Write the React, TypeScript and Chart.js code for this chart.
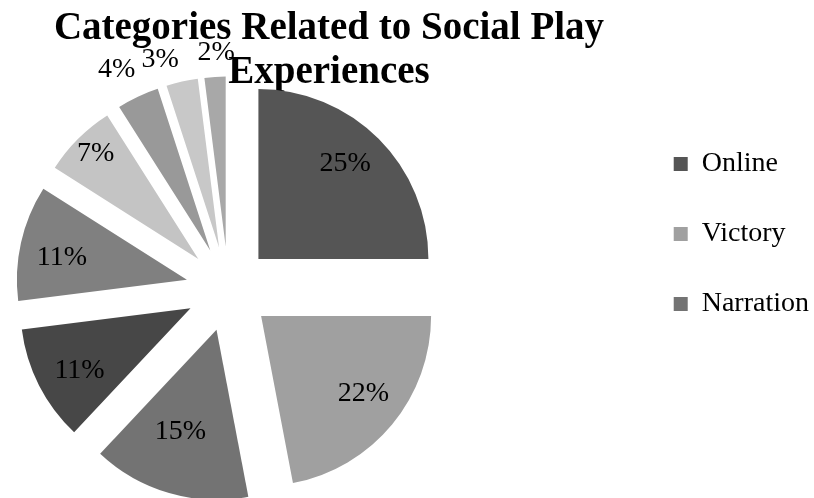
import React, { useEffect, useRef } from 'react';
import { Chart, registerables, ArcElement } from 'chart.js';

Chart.register(...registerables);

// ---- data ----
const categories = [
  'Online',
  'Victory',
  'Narration',
  'Category 4',
  'Category 5',
  'Category 6',
  'Category 7',
  'Category 8',
  'Category 9',
];
const shares = [25, 22, 15, 11, 11, 7, 4, 3, 2];
const sliceColors = [
  '#555555',
  '#a0a0a0',
  '#737373',
  '#474747',
  '#808080',
  '#c4c4c4',
  '#999999',
  '#c8c8c8',
  '#a8a8a8',
];
const titleLines = ['Categories Related to Social Play', 'Experiences'];
const legendCount = 3;
// label placement relative to each slice tip: distance (fraction of radius) and angular nudge (degrees)
const labelDistance = [0.76, 0.756, 0.635, 0.75, 0.747, 0.866, 1.2, 1.16, 1.14];
const labelAngleShift = [-2.8, -2.4, 3.3, -2.5, -2.6, 0.8, -2.1, -4.8, 0.8];

const FONT = '"Liberation Serif", "Times New Roman", serif';
const EXPLOSION = 0.25; // slice explosion as a fraction of the radius

// Chart.js clamps a negative left layout padding to 0 for the chart area;
// extend the plot area to the requested padding so the pie sits left of centre.
const extendArea = {
  id: 'extendArea',
  afterLayout(chart: any) {
    const pad = chart.options.layout.padding;
    const left = typeof pad === 'object' ? pad.left : pad;
    const ca = chart.chartArea;
    if (typeof left === 'number' && left < ca.left) {
      ca.left = left;
      ca.width = ca.right - ca.left;
    }
  },
};

const explodePlugin = {
  id: 'explodeSlices',
  beforeDatasetDraw(chart: any, args: any) {
    args.meta.data.forEach((el: any) => {
      if (el.__exploded) return;
      el.__exploded = true;
      el.draw = function (ctx: CanvasRenderingContext2D) {
        const { startAngle, endAngle, outerRadius } = this.getProps(
          ['startAngle', 'endAngle', 'outerRadius'],
          true
        );
        const half = (startAngle + endAngle) / 2;
        const d = outerRadius * EXPLOSION;
        ctx.save();
        ctx.translate(Math.cos(half) * d, Math.sin(half) * d);
        ArcElement.prototype.draw.call(this, ctx);
        ctx.restore();
      };
    });
  },
};

const sliceLabels = {
  id: 'sliceLabels',
  afterDatasetsDraw(chart: any) {
    const ctx: CanvasRenderingContext2D = chart.ctx;
    const meta = chart.getDatasetMeta(0);
    const data = chart.data.datasets[0].data as number[];
    const total = data.reduce((a, b) => a + b, 0);
    ctx.save();
    ctx.font = `28px ${FONT}`;
    ctx.fillStyle = '#000000';
    ctx.textAlign = 'center';
    ctx.textBaseline = 'middle';
    meta.data.forEach((el: any, i: number) => {
      const { x, y, startAngle, endAngle, outerRadius } = el.getProps(
        ['x', 'y', 'startAngle', 'endAngle', 'outerRadius'],
        true
      );
      const half = (startAngle + endAngle) / 2;
      const d = outerRadius * EXPLOSION;
      const a = half + (labelAngleShift[i] * Math.PI) / 180;
      const k = outerRadius * labelDistance[i];
      ctx.fillText(
        `${Math.round((data[i] / total) * 100)}%`,
        x + Math.cos(half) * d + Math.cos(a) * k,
        y + Math.sin(half) * d + Math.sin(a) * k
      );
    });
    ctx.restore();
  },
};

export default function App() {
  const ref = useRef<HTMLCanvasElement | null>(null);

  useEffect(() => {
    if (!ref.current) return;
    const chart = new Chart(ref.current, {
      type: 'pie',
      data: {
        labels: categories,
        datasets: [
          {
            data: shares,
            backgroundColor: sliceColors,
            borderWidth: 0,
            hoverOffset: 0,
            radius: 170,
            clip: false,
          } as any,
        ],
      },
      options: {
        animation: false,
        responsive: true,
        maintainAspectRatio: false,
        events: [],
        layout: {
          padding: { left: -175, right: -19, top: -10, bottom: 20 },
        },
        plugins: {
          tooltip: { enabled: false },
          title: {
            display: true,
            text: titleLines,
            color: '#000000',
            font: { family: FONT, size: 39, weight: 'bold', lineHeight: '44px' },
            padding: { top: 17, bottom: 5 },
          },
          legend: {
            display: true,
            position: 'right',
            align: 'center',
            labels: {
              color: '#000000',
              font: { family: FONT, size: 28 },
              boxWidth: 14,
              boxHeight: 14,
              padding: 42,
              generateLabels: (c: any) => {
                const base = (Chart.overrides as any).doughnut.plugins.legend.labels.generateLabels(c);
                return base
                  .filter((it: any) => it.index < legendCount)
                  .map((it: any) => ({ ...it, text: it.text + '\u00a0\u00a0' }));
              },
            },
          },
        },
      } as any,
      plugins: [extendArea, explodePlugin, sliceLabels],
    });
    return () => chart.destroy();
  }, []);

  return (
    <div
      style={{
        position: 'fixed',
        left: 0,
        top: 0,
        width: 814,
        height: 498,
        background: '#ffffff',
      }}
    >
      <canvas ref={ref} />
    </div>
  );
}
